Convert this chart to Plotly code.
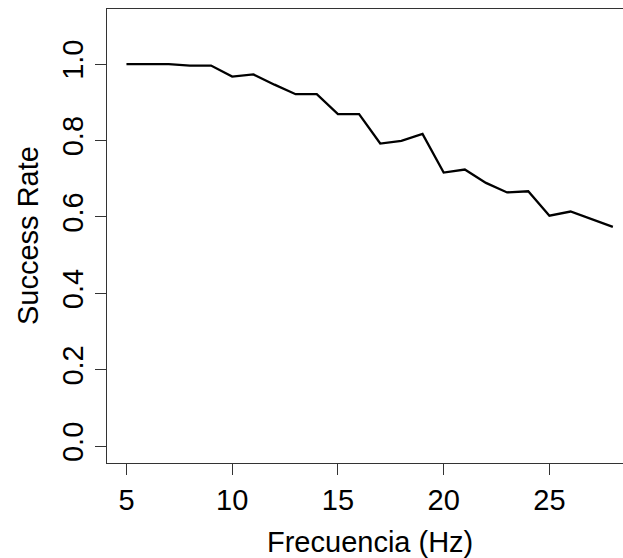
import plotly.graph_objects as go

# Frequency sweep (Hz) and measured success rate at each step
frecuencia = list(range(5, 29))
success_rate = [
    1.000, 1.000, 1.000, 0.996, 0.996, 0.967, 0.973, 0.946, 0.921, 0.921,
    0.869, 0.869, 0.792, 0.799, 0.817, 0.716, 0.724, 0.689, 0.664, 0.667,
    0.603, 0.614, 0.594, 0.574,
]
x_ticks = [5, 10, 15, 20, 25]
y_ticks = [0.0, 0.2, 0.4, 0.6, 0.8, 1.0]

FONT = "Liberation Sans, Arial, sans-serif"
FONT_SIZE = 29
AXIS_COLOR = "#333333"

fig = go.Figure(
    go.Scatter(
        x=frecuencia,
        y=success_rate,
        mode="lines",
        line=dict(color="black", width=2.3),
        hoverinfo="x+y",
    )
)

fig.update_layout(
    width=623,
    height=558,
    margin=dict(l=107, r=0, t=9, b=95),
    paper_bgcolor="white",
    plot_bgcolor="white",
    showlegend=False,
    font=dict(family=FONT, size=FONT_SIZE, color="black"),
    xaxis=dict(
        range=[4.08, 28.48],
        tickvals=x_ticks,
        ticktext=[str(v) for v in x_ticks],
        ticks="outside",
        ticklen=11,
        tickwidth=1,
        tickcolor=AXIS_COLOR,
        showline=True,
        linecolor=AXIS_COLOR,
        linewidth=1,
        mirror=True,
        showgrid=False,
        zeroline=False,
        tickfont=dict(family=FONT, size=FONT_SIZE, color="black"),
    ),
    yaxis=dict(
        range=[-0.044, 1.144],
        tickvals=y_ticks,
        ticktext=[f"{v:.1f}" for v in y_ticks],
        tickangle=-90,
        ticks="outside",
        ticklen=11,
        tickwidth=1,
        tickcolor=AXIS_COLOR,
        showline=True,
        linecolor=AXIS_COLOR,
        linewidth=1,
        mirror=False,
        showgrid=False,
        zeroline=False,
        tickfont=dict(family=FONT, size=FONT_SIZE, color="black"),
    ),
    annotations=[
        dict(
            text="Frecuencia (Hz)",
            x=16.5, xref="x",
            y=0, yref="paper",
            yshift=-79,
            xanchor="center", yanchor="middle",
            showarrow=False,
            font=dict(family=FONT, size=FONT_SIZE, color="black"),
        ),
        dict(
            text="Success Rate",
            x=0, xref="paper",
            y=0.5, yref="paper",
            xshift=-79,
            textangle=-90,
            xanchor="center", yanchor="middle",
            showarrow=False,
            font=dict(family=FONT, size=FONT_SIZE, color="black"),
        ),
    ],
)

fig.write_html("out.html")
